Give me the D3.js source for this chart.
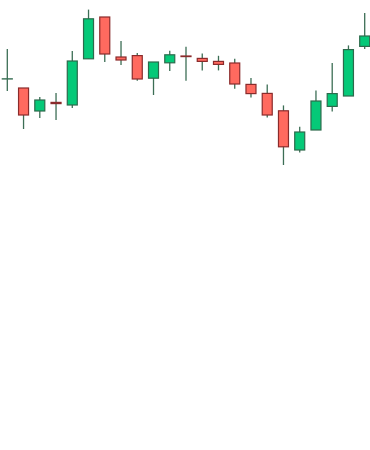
<!DOCTYPE html>
<html>
<head>
<meta charset="utf-8">
<script src="https://cdn.jsdelivr.net/npm/d3@7"></script>
<style>
  body { margin: 0; background: #fff; }
  svg { display: block; }
</style>
</head>
<body>
<div id="chart"></div>
<script>
// candle data (price units), one entry per session
const days   = d3.range(1, 24);
const opens  = [110.6, 106, 94.5, 98.8, 97.5, 120.6, 141.5, 121.5, 122.2, 110.9, 118.6, 122.0, 120.8, 119.3, 118.5, 107.8, 103.3, 94.6, 75, 85, 96.8, 102, 126.8];
const highs  = [125.5, 106, 101.5, 103.5, 124.5, 145.2, 141.5, 129.5, 123.5, 119, 124.6, 126.6, 123.3, 122.1, 120.6, 111, 107.8, 97.3, 86.6, 104.8, 118.5, 127.3, 143.5];
const lows   = [104.5, 85.5, 91, 90, 96, 120.6, 119, 117.5, 109.6, 102.5, 114.5, 109.6, 114.8, 114.8, 105.6, 101.2, 91.3, 67.5, 73.8, 85, 94.3, 102, 125.5];
const closes = [110.6, 92.5, 100, 98.2, 119.5, 140.6, 123, 120, 110.5, 119, 122.6, 121.7, 119.3, 117.8, 108, 103.2, 92.5, 76.6, 84, 99.5, 103.2, 125.2, 132];

const width = 370, height = 450;

let data = days.map((d, i) => ({day: d, o: opens[i], h: highs[i], l: lows[i], c: closes[i]}));

let svg = d3.select("#chart").append("svg")
    .attr("width", width)
    .attr("height", height);

// x: one point per candle, y: price
let x = d3.scalePoint()
    .domain(days)
    .range([7.3, 364.7]);

let y = d3.scaleLinear()
    .domain([65, 150])
    .range([170, 0]);

const bodyW = 10;
const upFill = "#05c978", upStroke = "#2d6a4c";
const downFill = "#ff6a5f", downStroke = "#8a2b2b";
const wickColor = "#3c6e55";

// wicks
svg.selectAll(".wick")
    .data(data)
    .enter()
    .append("line")
    .attr("class", "wick")
    .attr("x1", d => x(d.day))
    .attr("x2", d => x(d.day))
    .attr("y1", d => y(d.h))
    .attr("y2", d => y(d.l))
    .style("stroke", wickColor)
    .style("stroke-width", 1.3);

// bodies (a flat doji still gets a hairline body so its stroke shows)
svg.selectAll(".body")
    .data(data)
    .enter()
    .append("rect")
    .attr("class", "body")
    .attr("x", d => x(d.day) - bodyW / 2)
    .attr("y", d => y(Math.max(d.o, d.c)))
    .attr("width", bodyW)
    .attr("height", d => Math.max(Math.abs(y(d.o) - y(d.c)), 0.2))
    .style("fill", d => d.c >= d.o ? upFill : downFill)
    .style("stroke", d => d.c > d.o ? upStroke : (d.c == d.o ? wickColor : downStroke))
    .style("stroke-width", 1.2);
</script>
</body>
</html>
